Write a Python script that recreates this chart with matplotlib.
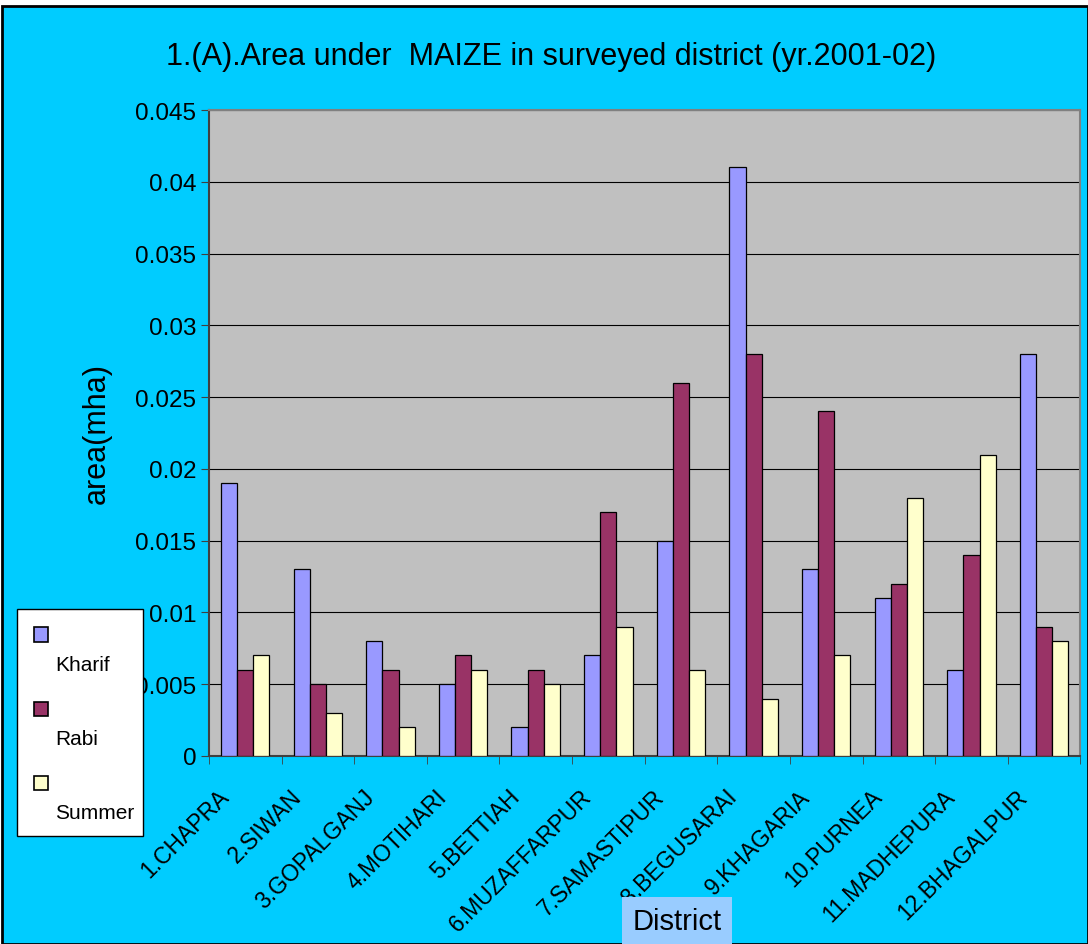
import matplotlib
matplotlib.use('Agg')
import matplotlib.pyplot as plt
import numpy as np
from matplotlib.patches import Rectangle
from matplotlib.ticker import FuncFormatter, MultipleLocator
from matplotlib.transforms import ScaledTranslation

plt.rcParams['font.family'] = ['Liberation Sans', 'DejaVu Sans']

districts = ['1.CHAPRA', '2.SIWAN', '3.GOPALGANJ', '4.MOTIHARI', '5.BETTIAH',
             '6.MUZAFFARPUR', '7.SAMASTIPUR', '8.BEGUSARAI', '9.KHAGARIA',
             '10.PURNEA', '11.MADHEPURA', '12.BHAGALPUR']
kharif = [0.019, 0.013, 0.008, 0.005, 0.002, 0.007, 0.015, 0.041, 0.013, 0.011, 0.006, 0.028]
rabi = [0.006, 0.005, 0.006, 0.007, 0.006, 0.017, 0.026, 0.028, 0.024, 0.012, 0.014, 0.009]
summer = [0.007, 0.003, 0.002, 0.006, 0.005, 0.009, 0.006, 0.004, 0.007, 0.018, 0.021, 0.008]

series = [('Kharif', kharif, '#9999FF'),
          ('Rabi', rabi, '#993366'),
          ('Summer', summer, '#FFFFCC')]

fig = plt.figure(figsize=(10.88, 9.45), dpi=100)
fig.patch.set_facecolor('white')
# cyan chart area with black frame, kept behind everything
fig.patches.append(Rectangle((0.002, 0.0), 0.998, 0.9925, transform=fig.transFigure,
                             facecolor='#00CCFF', edgecolor='black', linewidth=2, zorder=-10))

ax = fig.add_axes([0.192, 0.199, 0.801, 0.6835])
ax.set_facecolor('#C0C0C0')

x = np.arange(len(districts))
w = 1 / 4.5
for i, (name, vals, col) in enumerate(series):
    ax.bar(x + (i - 1) * w, vals, width=w, color=col, edgecolor='black',
           linewidth=0.9, zorder=3, label=name)

ax.set_xlim(-0.5, len(districts) - 0.5)
ax.set_ylim(0, 0.045)
ax.yaxis.set_major_locator(MultipleLocator(0.005))
ax.yaxis.set_major_formatter(FuncFormatter(lambda v, p: '0' if v == 0 else ('%.3f' % v).rstrip('0')))
ax.yaxis.grid(True, color='black', linewidth=0.8, zorder=1)
ax.set_axisbelow(True)
ax.tick_params(axis='y', labelsize=17.5, direction='out', length=6, color='#404040', pad=3)

# category names: drawn as rotated text under each group, nudged left
ax.set_xticks(x)
ax.set_xticklabels([])
ax.tick_params(axis='x', which='major', length=0)
ax.set_xticks(np.arange(-0.5, len(districts)), minor=True)
ax.tick_params(axis='x', which='minor', length=6, direction='out', color='#404040')
lab_tr = ax.get_xaxis_transform() + ScaledTranslation(-0.2, -0.37, fig.dpi_scale_trans)
for xi, name in zip(x, districts):
    ax.text(xi, 0, name, transform=lab_tr, rotation=45, rotation_mode='anchor',
            ha='right', va='center', fontsize=16.5, clip_on=False)

for s in ax.spines.values():
    s.set_color('#808080')
    s.set_linewidth(1.5)
ax.spines['left'].set_color('#404040')
ax.spines['bottom'].set_color('#404040')

ax.set_ylabel('area(mha)', fontsize=22)
ax.yaxis.set_label_coords(-0.112, 0.5)
fig.text(0.507, 0.940, '1.(A).Area under  MAIZE in surveyed district (yr.2001-02)',
         ha='center', va='center', fontsize=22)
fig.text(0.622, 0.024, 'District', ha='center', va='center', fontsize=21,
         bbox=dict(boxstyle='square,pad=0.35', facecolor='#99CCFF', edgecolor='none'))

# legend box drawn at the left edge, over the y tick labels
fig.patches.append(Rectangle((0.016, 0.114), 0.115, 0.241, transform=fig.transFigure,
                             facecolor='white', edgecolor='black', linewidth=1, zorder=5))
for i, (name, vals, col) in enumerate(series):
    top = 0.335 - i * 0.0785
    fig.patches.append(Rectangle((0.031, top - 0.015), 0.013, 0.015, transform=fig.transFigure,
                                 facecolor=col, edgecolor='black', linewidth=1.2, zorder=6))
    fig.text(0.051, top - 0.039, name, ha='left', va='center', fontsize=15, zorder=7)

fig.savefig('out.png', dpi=100)
